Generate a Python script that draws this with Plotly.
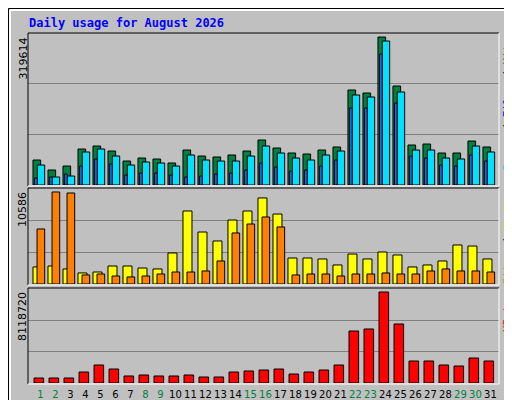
import plotly.graph_objects as go

days = list(range(1, 32))
weekend = [1, 2, 8, 9, 15, 16, 22, 23, 29, 30]

hits = [54000, 32400, 41000, 77700, 84200, 73400, 51800, 58300, 56100, 47500, 75600,
        62600, 60500, 64800, 73400, 97200, 79900, 69100, 66900, 75600, 82100,
        205200, 198700, 319614, 213800, 86400, 88500, 69100, 69100, 95000, 82100]
files = [43200, 17300, 19400, 71300, 77800, 62600, 43200, 49700, 47500, 41000, 64800,
         54000, 51800, 51800, 62600, 84200, 69100, 58300, 54000, 64800, 73400,
         194400, 190100, 311000, 200900, 75600, 75600, 58300, 56200, 84200, 71300]
pages = [15100, 17300, 23800, 41000, 56200, 45400, 21600, 25900, 25900, 21600, 17300,
         19400, 23800, 25900, 32400, 47500, 38900, 30200, 32400, 41000, 54000,
         166300, 166300, 282900, 177100, 62600, 58300, 43200, 41000, 64800, 51800]
sites = [1960, 2070, 1730, 1270, 1380, 2070, 2070, 1840, 1730, 3570, 8400,
         5980, 4950, 7360, 8400, 9900, 8050, 2990, 2990, 2880, 2190,
         3450, 2880, 3680, 3340, 1960, 2190, 2650, 4490, 4370, 2880]
visits = [6330, 10586, 10470, 1040, 1150, 920, 810, 920, 1150, 1380, 1380,
          1500, 2650, 5870, 6900, 7710, 6560, 1040, 1150, 1150, 920,
          1150, 1150, 1270, 1150, 1150, 1500, 1730, 1500, 1500, 1380]
kbytes = [446000, 446000, 446000, 981000, 1606000, 1249000, 625000, 714000, 625000, 625000, 714000,
          535000, 535000, 981000, 1071000, 1160000, 1249000, 803000, 981000, 1160000, 1606000,
          4639000, 4818000, 8118720, 5264000, 1963000, 1963000, 1606000, 1517000, 2230000, 1963000]

BG = "#C0C0C0"
mono = "DejaVu Sans Mono"
line = dict(color="black", width=1)

fig = go.Figure()
def bar(y, color, off, w, ax):
    fig.add_trace(go.Bar(x=days, y=y, marker=dict(color=color, line=line),
                         offset=off, width=w, xaxis="x" + ax, yaxis="y" + ax,
                         hoverinfo="y"))

bar(hits, "#008040", 0, 0.51, "")
bar(files, "#00E0FF", 0.29, 0.49, "")
bar(pages, "#0080FF", 0.11, 0.17, "")
bar(sites, "#FFFF00", 0, 0.6, "2")
bar(visits, "#FF8000", 0.27, 0.51, "2")
bar(kbytes, "#FF0000", 0.07, 0.64, "3")

xr = [0.667, 32.07]
xcommon = dict(range=xr, showgrid=False, zeroline=False, domain=[20/512, 491/512])
ycommon = dict(showticklabels=False, zeroline=False, gridcolor="#808080", gridwidth=1, ticks="")
ticktext = [f"<span style='color:{'#008040' if d in weekend else 'black'}'>{d}</span>" for d in days]

fig.update_layout(
    width=512, height=400, margin=dict(l=0, r=0, t=0, b=0),
    paper_bgcolor=BG, plot_bgcolor=BG, barmode="overlay", showlegend=False,
    font=dict(family="DejaVu Sans", size=11, color="black"),
    xaxis=dict(**xcommon, showticklabels=False, anchor="y"),
    xaxis2=dict(**xcommon, showticklabels=False, anchor="y2"),
    xaxis3=dict(**xcommon, anchor="y3", tickvals=[d + 0.5 for d in days], ticktext=ticktext,
                ticks="", tickangle=0, tickfont=dict(size=10), ticklabelstandoff=4),
    yaxis=dict(**ycommon, domain=[1 - 177/400, 1 - 25/400], range=[0, 328300],
               tickvals=[328300/3, 328300*2/3]),
    yaxis2=dict(**ycommon, domain=[1 - 276/400, 1 - 181/400], range=[0, 10930],
                tickvals=[10930/3, 10930*2/3]),
    yaxis3=dict(**ycommon, domain=[1 - 375/400, 1 - 281/400], range=[0, 8386000],
                tickvals=[8386000/3, 8386000*2/3]),
)

shapes = []
def px_line(x0, y0, x1, y1, color, w=1):
    shapes.append(dict(type="line", xref="paper", yref="paper", layer="below",
                       x0=x0/512, x1=x1/512, y0=1-y0/400, y1=1-y1/400,
                       line=dict(color=color, width=w)))
# outer frame
px_line(0.5, 0.5, 511.5, 0.5, "black"); px_line(0.5, 0.5, 0.5, 399.5, "black")
px_line(511.5, 0.5, 511.5, 399.5, "black"); px_line(0.5, 399.5, 511.5, 399.5, "black")
px_line(2, 2, 509, 2, "white", 2); px_line(2, 2, 2, 397, "white", 2)
px_line(508.5, 3, 508.5, 398, "#808080", 4); px_line(3, 397.5, 510, 397.5, "#808080", 3)
fig.update_layout(shapes=shapes)
# panel frames (above traces)
for top, bot in [(25, 178), (180, 277), (280, 376)]:
    for x0, y0, x1, y1, c in [(20, top, 491, top, "black"), (20, top, 20, bot, "black"),
                              (491, top, 491, bot, "white"), (20, bot, 491, bot, "white")]:
        fig.add_shape(type="line", xref="paper", yref="paper",
                      x0=x0/512, x1=x1/512, y0=1-y0/400, y1=1-y1/400,
                      line=dict(color=c, width=1))

def ann(text, x, y, size=11, angle=0, xa="left", ya="top", family=mono, color="black"):
    fig.add_annotation(text=text, x=x/512, y=1-y/400, xref="paper", yref="paper",
                       xanchor=xa, yanchor=ya, showarrow=False, textangle=angle,
                       font=dict(family=family, size=size, color=color))

ann("<b>Daily usage for August 2026</b>", 19, 6, size=12, color="#0000FF")
ann("319614", 6, 28, angle=-90, family="DejaVu Sans")
ann("10586", 6, 182, angle=-90, family="DejaVu Sans")
ann("8118720", 6, 282, angle=-90, family="DejaVu Sans")
ann("<span style='color:#00C0FF'>Pages</span> / <span style='color:#0000FF'>Files</span>"
    " / <span style='color:#008040'>Hits</span>", 499, 28, angle=-90, xa="center")
ann("<span style='color:#FF8000'>Sites</span> / <span style='color:#E0E000'>Visits</span>",
    499, 182, angle=-90, xa="center")
ann("KBytes", 499, 282, angle=-90, color="#FF0000", xa="center")

fig.write_html("out.html")
